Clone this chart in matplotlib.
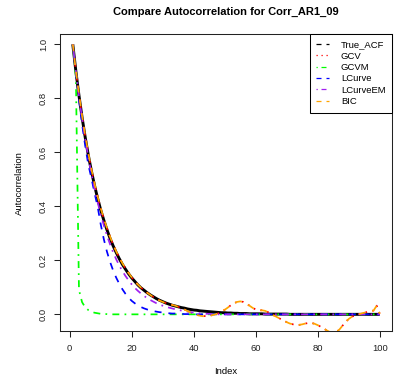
import matplotlib
matplotlib.use("Agg")
import matplotlib.pyplot as plt
from matplotlib.lines import Line2D

plt.rcParams["font.family"] = ["Liberation Sans", "DejaVu Sans"]

# lag index 1..100
index = list(range(1, 101))

true_acf = [
    1.000, 0.900, 0.810, 0.729, 0.656, 0.590, 0.531, 0.478, 0.430, 0.387,
    0.349, 0.314, 0.282, 0.254, 0.229, 0.206, 0.185, 0.167, 0.150, 0.135,
    0.122, 0.109, 0.098, 0.089, 0.080, 0.072, 0.065, 0.058, 0.052, 0.047,
    0.042, 0.038, 0.034, 0.031, 0.028, 0.025, 0.023, 0.020, 0.018, 0.016,
    0.015, 0.013, 0.012, 0.011, 0.010, 0.009, 0.008, 0.007, 0.006, 0.006,
    0.005, 0.005, 0.004, 0.004, 0.003, 0.003, 0.003, 0.002, 0.002, 0.002,
    0.002, 0.002, 0.001, 0.001, 0.001, 0.001, 0.001, 0.001, 0.001, 0.001,
    0.000, 0.000, 0.000, 0.000, 0.000, 0.000, 0.000, 0.000, 0.000, 0.000,
    0.000, 0.000, 0.000, 0.000, 0.000, 0.000, 0.000, 0.000, 0.000, 0.000,
    0.000, 0.000, 0.000, 0.000, 0.000, 0.000, 0.000, 0.000, 0.000, 0.000,
]

bic_acf = [
    1.000, 0.902, 0.814, 0.734, 0.662, 0.597, 0.538, 0.485, 0.437, 0.394,
    0.355, 0.320, 0.288, 0.259, 0.233, 0.210, 0.189, 0.170, 0.153, 0.137,
    0.123, 0.110, 0.099, 0.089, 0.080, 0.072, 0.064, 0.057, 0.051, 0.046,
    0.042, 0.038, 0.035, 0.032, 0.028, 0.023, 0.018, 0.012, 0.007, 0.003,
    -0.002, -0.005, -0.007, -0.006, -0.005, -0.003, 0.000, 0.004, 0.010, 0.017,
    0.025, 0.034, 0.041, 0.046, 0.048, 0.046, 0.040, 0.032, 0.024, 0.018,
    0.015, 0.015, 0.013, 0.008, 0.002, -0.005, -0.011, -0.017, -0.023, -0.029,
    -0.034, -0.037, -0.039, -0.039, -0.037, -0.034, -0.032, -0.032, -0.035, -0.040,
    -0.046, -0.053, -0.060, -0.066, -0.068, -0.066, -0.056, -0.042, -0.028, -0.017,
    -0.009, -0.004, -0.001, 0.003, 0.006, 0.009, 0.012, 0.014, 0.032, 0.002,
]

# GCV lands on the same estimate as BIC
gcv_acf = list(bic_acf)

gcvm_acf = [
    1.000, 0.880, 0.090, 0.045, 0.026, 0.016, 0.010, 0.006, 0.004, 0.002,
    0.001, 0.001] + [0.000] * 88

lcurve_acf = [
    1.000, 0.895, 0.795, 0.705, 0.625, 0.555, 0.505, 0.450, 0.400, 0.334,
    0.279, 0.233, 0.195, 0.163, 0.136, 0.113, 0.093, 0.076, 0.062, 0.050,
    0.041, 0.033, 0.027, 0.022, 0.018, 0.015, 0.012, 0.010, 0.008, 0.007,
    0.005, 0.004, 0.003, 0.003, 0.002, 0.002, 0.001, 0.001] + [0.000] * 62

lcurveem_acf = [
    1.000, 0.900, 0.808, 0.725, 0.650, 0.582, 0.521, 0.466, 0.416, 0.371,
    0.330, 0.293, 0.260, 0.230, 0.204, 0.181, 0.160, 0.142, 0.126, 0.111,
    0.098, 0.087, 0.077, 0.068, 0.060, 0.053, 0.047, 0.041, 0.036, 0.032,
    0.028, 0.025, 0.022, 0.019, 0.017, 0.014, 0.012, 0.010, 0.008, 0.006,
    0.005, 0.004, 0.003, 0.002, 0.002, 0.001, 0.001] + [0.000] * 53

labels = ["True_ACF", "GCV", "GCVM", "LCurve", "LCurveEM", "BIC"]
colors = ["black", "red", "#00FF00", "blue", "#A020F0", "#FFA500"]

# R style dash patterns (in units of line width)
dashed = (0, (4, 4))
dotted = (0, (1, 3))
dotdash = (0, (1, 3, 4, 3))
styles = [dashed, dotted, dotdash, dashed, dotdash, dashed]

fig = plt.figure(figsize=(3.98, 3.81), dpi=100)
ax = fig.add_axes([0.152, 0.131, 0.833, 0.7805])

lw = 1.25
ax.plot(index, true_acf, color="black", lw=2.1, solid_capstyle="butt")
ax.plot(index, gcv_acf, color=colors[1], lw=lw, linestyle=dotted)
ax.plot(index, gcvm_acf, color=colors[2], lw=lw, linestyle=dotdash)
ax.plot(index, lcurve_acf, color=colors[3], lw=lw, linestyle=dashed)
ax.plot(index, lcurveem_acf, color=colors[4], lw=lw, linestyle=dotdash)
ax.plot(index, bic_acf, color=colors[5], lw=lw, linestyle=dashed)

ax.set_xlim(-2.96, 103.96)
ax.set_ylim(-0.062, 1.039)
ax.set_xticks([0, 20, 40, 60, 80, 100])
ax.set_yticks([0.0, 0.2, 0.4, 0.6, 0.8, 1.0])
ax.set_yticklabels(["0.0", "0.2", "0.4", "0.6", "0.8", "1.0"],
                   rotation=90, va="center")
ax.tick_params(direction="out", length=4, width=0.75, labelsize=6.8,
               pad=5, color="#222222", labelcolor="#222222")
for sp in ax.spines.values():
    sp.set_linewidth(0.75)
    sp.set_color("#222222")

# legend keys are drawn thin, like the default legend line width
handles = [Line2D([], [], color=c, lw=0.9, linestyle=s)
           for c, s in zip(colors, styles)]
leg = ax.legend(handles, labels, loc="upper right", borderaxespad=0,
                fancybox=False, framealpha=1, edgecolor="black",
                fontsize=6.8, handlelength=1.4, handletextpad=1.2,
                labelspacing=0.25, borderpad=0.7)
leg.get_frame().set_linewidth(0.75)

fig.text(0.5675, 0.968, "Compare Autocorrelation for Corr_AR1_09",
         ha="center", va="center", fontsize=8.0, fontweight="bold")
fig.text(0.5675, 0.024, "Index", ha="center", va="center", fontsize=6.8)
fig.text(0.048, 0.5205, "Autocorrelation", ha="center", va="center",
         rotation=90, fontsize=6.8)

fig.savefig("out.png", dpi=100)
